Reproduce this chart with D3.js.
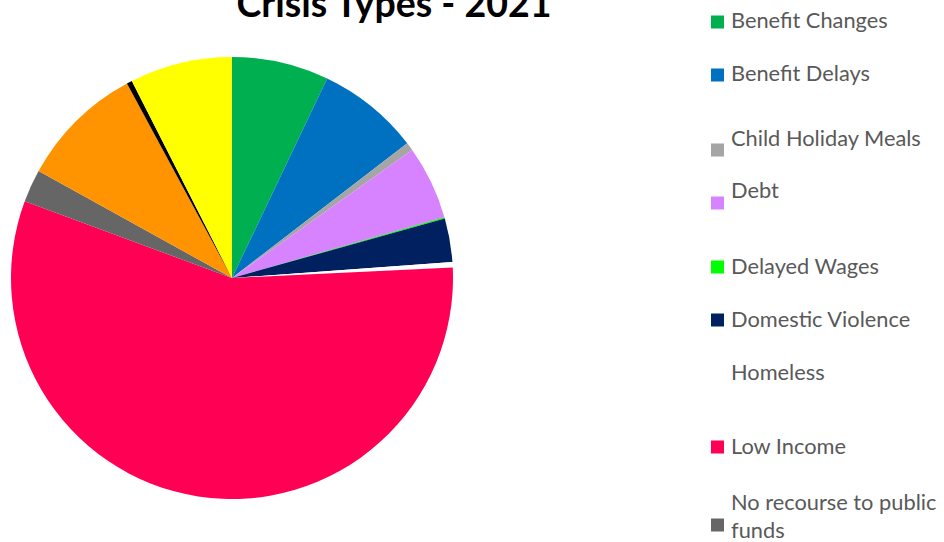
<!DOCTYPE html>
<html>
<head>
<meta charset="utf-8">
<script src="https://cdn.jsdelivr.net/npm/d3@7"></script>
<style>
  html, body { margin: 0; padding: 0; background: #fff; overflow: hidden; }
  svg { display: block; }
</style>
</head>
<body>
<svg id="chart" width="944" height="542"></svg>
<script>
// Crisis referrals by type, 2021
const categories = [
  "Benefit Changes", "Benefit Delays", "Child Holiday Meals", "Debt",
  "Delayed Wages", "Domestic Violence", "Homeless", "Low Income",
  "No recourse to public funds", "Other", "Sickness", "Unemployed"
];
const counts = [71, 75, 6, 54, 1, 32, 4, 565, 24, 91, 4, 75];
const colors = [
  "#00B050", "#0070C0", "#A5A5A5", "#D783FF",
  "#00FF00", "#002060", "#FFFFFF", "#FF0055",
  "#666666", "#FF9300", "#000000", "#FFFF00"
];
const title = "Crisis Types - 2021";

// legend rows: text line centres and swatch centres (Excel-like spacing)
const legendTextY   = [20, 73, 138, 190, 266, 319, 372, 446, 502, 590, 650, 710];
const legendSwatchY = [22, 75, 150, 203, 267, 320, null, 447, 525, 591, 651, 711];

const svg = d3.select("#chart");
const cx = 232, cy = 278, radius = 221;

const data = categories.map((c, i) => ({ name: c, value: counts[i], color: colors[i] }));

const pie = d3.pie().value(d => d.value).sort(null).startAngle(0).endAngle(2 * Math.PI);
const arc = d3.arc().innerRadius(0).outerRadius(radius);

svg.append("g")
  .attr("transform", `translate(${cx},${cy})`)
  .selectAll("path")
  .data(pie(data))
  .join("path")
  .attr("d", arc)
  .attr("fill", d => d.data.color);

// title
svg.append("text")
  .attr("x", 394)
  .attr("y", 17)
  .attr("text-anchor", "middle")
  .attr("font-family", "Lato, 'Open Sans', sans-serif")
  .attr("font-weight", "bold")
  .attr("font-size", 37.5)
  .attr("fill", "#000")
  .text(title);

// legend
const legend = svg.append("g").attr("font-family", "Lato, 'Open Sans', sans-serif")
  .attr("font-size", 21.8).attr("fill", "#595959");

data.forEach((d, i) => {
  if (legendSwatchY[i] !== null && d.color.toUpperCase() !== "#FFFFFF") {
    legend.append("rect")
      .attr("x", 711).attr("y", legendSwatchY[i] - 6.5)
      .attr("width", 13).attr("height", 13)
      .attr("fill", d.color);
  }
  if (d.name === "No recourse to public funds") {
    const t = legend.append("text").attr("x", 731).attr("y", legendTextY[i]).attr("dy", "0.35em");
    t.append("tspan").attr("x", 731).text("No recourse to public");
    t.append("tspan").attr("x", 731).attr("dy", 28).text("funds");
  } else {
    legend.append("text")
      .attr("x", 731).attr("y", legendTextY[i]).attr("dy", "0.35em")
      .text(d.name);
  }
});
</script>
</body>
</html>
